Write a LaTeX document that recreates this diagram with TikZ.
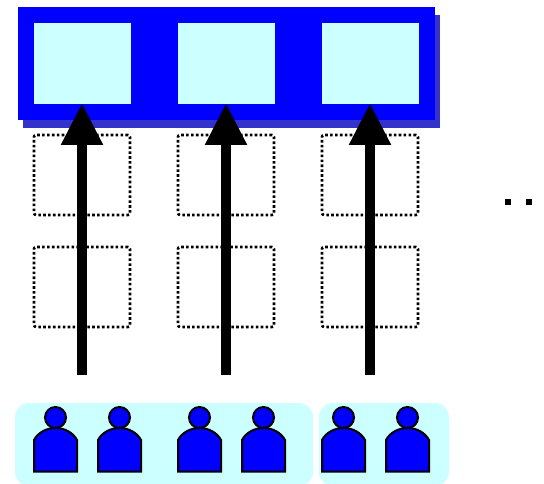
\documentclass[tikz,border=0pt]{standalone}
\usetikzlibrary{arrows.meta,shadows}
\definecolor{paleCyan}{HTML}{CCFFFF}
\definecolor{pureBlue}{HTML}{0000FF}
\definecolor{shadowBlue}{HTML}{3333CC}
\tikzset{
  x=1pt,y=-1pt,
  box/.style={rectangle,inner sep=0pt,outer sep=0pt,minimum width=#1},
  frontbox/.style={box=97pt,minimum height=81pt,fill=paleCyan},
  slotbox/.style={box=96pt,minimum height=80pt,draw=black,line width=2.6pt,dash pattern=on 2.6pt off 2.3pt,rounded corners=2pt},
  bigarrow/.style={line width=10pt,black,-{Triangle[length=42pt,width=39.5pt]}},
  panel/.style={fill=paleCyan,rounded corners=14pt},
  dotmark/.style={rectangle,fill=black,inner sep=0pt,minimum width=6pt,minimum height=6.5pt},
  personline/.style={draw=black,line width=2pt,fill=pureBlue},
  person/.pic={
    \path[personline] (-21.5,54) -- (-21.5,22.5) .. controls (-17.5,15) and (-9,10.5) .. (0,10.5)
      .. controls (9,10.5) and (17.5,15) .. (21.5,22.5) -- (21.5,54) -- cycle;
    \path[personline] (0,0) circle[radius=10.5];
  }
}
\begin{document}
\begin{tikzpicture}
\useasboundingbox (0,0) rectangle (544,484);
% frame and shadow
\fill[shadowBlue] (23,15) rectangle (440,128);
\fill[pureBlue] (18,7) rectangle (435,120);
% front row
\node[frontbox] (f1) at (82.5,63.5) {};
\node[frontbox] (f2) at (226.5,63.5) {};
\node[frontbox] (f3) at (370.5,63.5) {};
% dotted rows
\foreach \n/\cx in {1/82,2/226,3/370}{
  \node[slotbox] (a\n) at (\cx,175) {};
  \node[slotbox] (b\n) at (\cx,287) {};
}
% arrows
\coordinate (s1) at (82,375);
\coordinate (s2) at (226,375);
\coordinate (s3) at (370,375);
\coordinate (t1) at (82,103);
\coordinate (t2) at (226,103);
\coordinate (t3) at (370,103);
\draw[bigarrow] (s1) -- (t1);
\draw[bigarrow] (s2) -- (t2);
\draw[bigarrow] (s3) -- (t3);
% continuation marks
\node[dotmark] (d1) at (508,202) {};
\node[dotmark] (d2) at (529,202) {};
% panels
\path[panel] (15,403) rectangle (313,486);
\path[panel] (319,403) rectangle (449,486);
% people
\foreach \px in {55.5,119.5,199.5,263.5,343.5,407.5}{
  \pic at (\px,417.5) {person};
}
\end{tikzpicture}
\end{document}
